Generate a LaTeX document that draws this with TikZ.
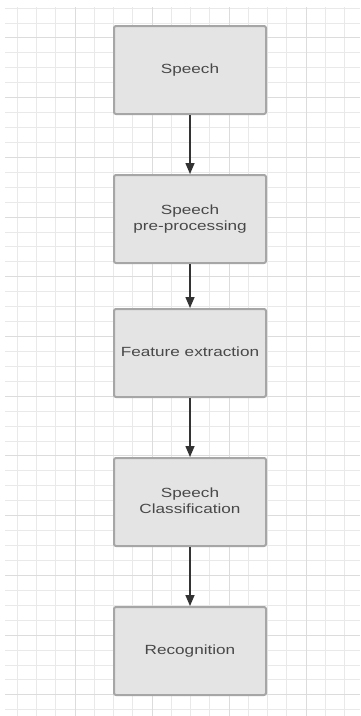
\documentclass[tikz,border=0pt]{standalone}
\usepackage{fontspec}
\setmainfont{Liberation Sans}
\usepackage{graphicx}
\usetikzlibrary{arrows.meta}
\definecolor{gridminor}{RGB}{233,233,233}
\definecolor{gridmajor}{RGB}{220,220,220}
\definecolor{boxfill}{RGB}{228,228,228}
\definecolor{boxline}{RGB}{166,166,166}
\definecolor{txt}{RGB}{72,72,72}
\definecolor{arr}{RGB}{51,51,51}
\newcommand{\boxlbl}[1]{\scalebox{1.29}[1]{\begin{tabular}{@{}c@{}}#1\end{tabular}}}
\tikzset{
  stepbox/.style={draw=boxline, fill=boxfill, line width=2pt, rounded corners=2pt,
    minimum width=152pt, minimum height=88pt, inner sep=0pt, text=txt,
    font=\fontsize{13.3}{16}\selectfont},
  flow/.style={draw=arr, line width=1.5pt, -{Triangle[length=11pt,width=9pt]}},
  minorline/.style={draw=gridminor, line width=1pt},
  majorline/.style={draw=gridmajor, line width=1.6pt}
}
\begin{document}
\begin{tikzpicture}[x=1pt,y=-1pt]
\useasboundingbox (0,0) rectangle (360,716);
\fill[white] (0,0) rectangle (360,716);
% grid: minor lines (snapped to pixel centres)
\foreach \k in {0,...,17}{
  \pgfmathsetmacro\xx{floor(17.25+19.25*\k)+0.5}
  \draw[minorline] (\xx,7) -- (\xx,716);
}
\foreach \k in {0,...,47}{
  \pgfmathsetmacro\yy{floor(8.1+14.93*\k)+0.5}
  \draw[minorline] (5,\yy) -- (360,\yy);
}
% grid: major lines
\foreach \k in {3,7,11,15}{
  \pgfmathsetmacro\xx{floor(17.25+19.25*\k)+0.5}
  \draw[majorline] (\xx,7) -- (\xx,716);
}
\foreach \k in {2,6,...,46}{
  \pgfmathsetmacro\yy{floor(8.1+14.93*\k)+0.5}
  \draw[majorline] (5,\yy) -- (360,\yy);
}
% boxes
\node[stepbox] (s1) at (190,70)  {\boxlbl{Speech}};
\node[stepbox] (s2) at (190,219) {\boxlbl{Speech\\pre-processing}};
\node[stepbox] (s3) at (190,353) {\boxlbl{Feature extraction}};
\node[stepbox] (s4) at (190,502) {\boxlbl{Speech\\Classification}};
\node[stepbox] (s5) at (190,651) {\boxlbl{Recognition}};
% connectors
\draw[flow] (s1) -- (s2);
\draw[flow] (s2) -- (s3);
\draw[flow] (s3) -- (s4);
\draw[flow] (s4) -- (s5);
\end{tikzpicture}
\end{document}
